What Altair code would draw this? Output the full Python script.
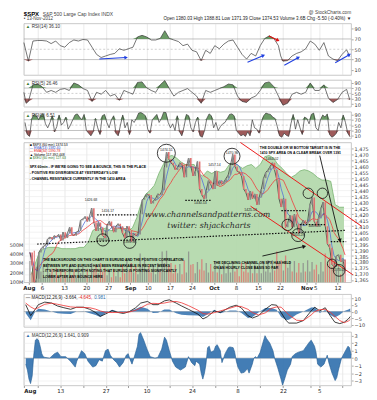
import math
import altair as alt
import pandas as pd

# ---------------- layout ----------------
W = 330
H_RSI14, H_RSI5, H_RSI2, H_MAIN, H_MACD, H_HIST = 52, 27, 27, 141, 33, 54

# ---------------- x axis (trading days since 1-Aug-2012) ----------------
tick_days = [0, 3, 8, 13, 18, 23, 27, 32, 37, 42, 47, 52, 57, 63, 65, 70]
tick_labels = ["Aug", "6", "13", "20", "27", "Sep", "10", "17", "24", "Oct", "8", "15", "22", "Nov", "5", "12"]
month_days = [0, 23, 42, 63]

# ---------------- SPX 60-min, two samples per day (AM, PM) ----------------
spx_half = [
    1388, 1377, 1360, 1366, 1388, 1391, 1393, 1394, 1399, 1401,
    1399, 1402, 1401, 1403, 1398, 1405, 1400, 1404, 1409, 1403,
    1402, 1405, 1406, 1415, 1416, 1418, 1414, 1418, 1425, 1413,
    1406, 1413, 1409, 1402, 1400, 1411, 1414, 1410, 1405, 1410,
    1412, 1410, 1404, 1400, 1410, 1406, 1397, 1404, 1402, 1403,
    1420, 1432, 1434, 1437, 1436, 1429, 1431, 1433, 1437, 1436,
    1440, 1459, 1472, 1466, 1463, 1461, 1457, 1459, 1463, 1461,
    1451, 1460, 1467, 1460, 1452, 1456, 1464, 1441, 1436, 1433,
    1440, 1448, 1445, 1441, 1456, 1444, 1448, 1445, 1447, 1450,
    1453, 1461, 1470, 1460, 1456, 1455, 1452, 1441, 1438, 1432,
    1439, 1433, 1437, 1428, 1434, 1441, 1450, 1455, 1457, 1460,
    1463, 1457, 1449, 1433, 1426, 1433, 1409, 1413, 1419, 1409,
    1420, 1412, 1404, 1411, 1415, 1412, 1414, 1428, 1434, 1414,
    1410, 1417, 1425, 1430, 1410, 1395, 1392, 1378, 1376, 1385,
    1386, 1380, 1382, 1374.5,
]
# volume (millions), same sampling
vol_half = [
    320, 200, 430, 260, 380, 210, 260, 150, 300, 190,
    240, 160, 250, 150, 240, 160, 230, 150, 280, 170,
    230, 160, 270, 190, 260, 170, 240, 160, 300, 230,
    280, 190, 300, 210, 250, 170, 220, 150, 240, 160,
    210, 150, 280, 190, 330, 220, 300, 200, 270, 180,
    400, 260, 360, 230, 290, 200, 270, 180, 300, 210,
    420, 300, 430, 270, 300, 190, 280, 190, 290, 180,
    330, 200, 420, 280, 290, 190, 310, 230, 340, 220,
    300, 200, 290, 210, 320, 200, 280, 180, 290, 190,
    300, 200, 310, 210, 240, 160, 300, 210, 310, 200,
    290, 190, 280, 190, 300, 190, 320, 210, 330, 200,
    330, 220, 420, 300, 330, 220, 380, 250, 320, 210,
    320, 200, 300, 200, 300, 210, 330, 210, 310, 230,
    280, 180, 310, 210, 400, 290, 360, 260, 330, 220,
    280, 180, 330, 240,
]
# EURUSD background, one value per day
eurusd_day = [
    1.219, 1.228, 1.237, 1.239, 1.240, 1.240, 1.240, 1.239, 1.239, 1.239,
    1.239, 1.240, 1.240, 1.244, 1.253, 1.255, 1.254, 1.255, 1.253, 1.253,
    1.255, 1.255, 1.253, 1.255, 1.263, 1.274, 1.281, 1.284, 1.288, 1.297,
    1.304, 1.310, 1.311, 1.309, 1.306, 1.304, 1.304, 1.304, 1.297, 1.295,
    1.299, 1.297, 1.299, 1.298, 1.299, 1.304, 1.306, 1.303, 1.301, 1.303,
    1.304, 1.301, 1.304, 1.310, 1.311, 1.309, 1.304, 1.301, 1.297, 1.294,
    1.296, 1.299, 1.300, 1.299, 1.297, 1.294, 1.292, 1.292, 1.291, 1.273,
    1.271, 1.271,
]

# ---------------- RSI(14) panel ----------------
rsi14_day = [0, 1, 2, 3, 4, 5, 6, 7, 8, 9, 10, 11, 12, 13, 14, 15, 16, 17, 18, 19,
             20, 21, 22, 23, 24, 25, 26, 27, 28, 29, 30, 31, 32, 33, 34, 35, 36, 37, 38, 39,
             40, 41, 42, 43, 44, 45, 46, 47, 48, 49, 50, 51, 52, 53, 54, 55, 56, 56.5, 57, 58,
             59, 60, 61, 62, 63, 64, 65, 66, 67, 68, 69, 70, 71, 71.7]
rsi14_val = [63, 27, 66, 67, 67, 66, 61, 66, 57, 54, 63, 68, 66, 69, 68, 54, 40, 34, 37, 40,
             42, 51, 48, 51, 54, 74, 77, 74, 68, 68, 71, 86, 71, 68, 65, 57, 60, 48, 45, 28,
             48, 42, 57, 51, 60, 66, 68, 54, 40, 31, 42, 37, 57, 71, 76, 71, 57, 37, 27, 28,
             37, 42, 45, 51, 66, 60, 48, 63, 37, 31, 28, 40, 49, 36]
rsi_blue_arrows = {"d1": [16.6, 49.2, 57.3, 68.5], "v1": [31, 25, 19, 24],
                   "d2": [22.5, 52.7, 60.4, 71.6], "v2": [34, 38, 34, 39.5]}
rsi_red_arrow = {"d1": [53.9], "v1": [75.5], "d2": [55.9], "v2": [67.4]}

# ---------------- RSI(5) panel ----------------
rsi5_day = [0, 0.5, 1, 2, 3, 4, 5, 6, 7, 8, 9, 10, 11, 12, 13, 14, 15, 16, 17, 18, 19,
            20, 21, 22, 23, 24, 25, 26, 27, 28, 29, 30, 31, 32, 33, 34, 35, 36, 37, 38, 39,
            40, 41, 42, 43, 44, 45, 46, 47, 48, 49, 50, 51, 52, 53, 54, 55, 56, 57, 58, 59,
            60, 61, 62, 63, 64, 65, 66, 67, 68, 69, 70, 71, 71.7]
rsi5_val = [54, 13, 20, 82, 85, 75, 54, 61, 54, 65, 68, 61, 89, 82, 68, 61, 20, 54, 47, 61, 40,
            47, 24, 61, 54, 47, 91, 93, 71, 61, 54, 82, 98, 68, 40, 54, 61, 68, 54, 40, 13,
            61, 54, 61, 68, 75, 85, 82, 40, 20, 16, 33, 40, 61, 89, 93, 75, 40, 6, 13, 47,
            54, 47, 54, 89, 61, 61, 82, 33, 16, 27, 54, 65, 26]

# ---------------- RSI(2) panel, two samples per day ----------------
rsi2_half = [
    60, 15, 8, 75, 90, 85, 70, 88, 92, 55,
    40, 60, 85, 25, 45, 88, 50, 60, 80, 35,
    50, 70, 88, 92, 80, 70, 90, 30, 20, 10,
    25, 75, 40, 15, 85, 90, 60, 40, 70, 85,
    20, 10, 50, 88, 40, 60, 15, 70, 60, 75,
    95, 97, 92, 85, 35, 20, 70, 80, 90, 60,
    75, 98, 97, 60, 40, 55, 30, 85, 25, 10,
    45, 90, 85, 40, 25, 60, 80, 10, 5, 30,
    75, 92, 85, 40, 60, 30, 45, 55, 60, 75,
    90, 92, 85, 30, 20, 10, 15, 8, 25, 10,
    70, 40, 35, 20, 60, 85, 95, 92, 90, 80,
    75, 45, 10, 5, 20, 12, 8, 55, 90, 35,
    70, 40, 15, 80, 75, 55, 90, 95, 40, 30,
    70, 88, 80, 92, 15, 5, 10, 20, 60, 40,
    88, 60, 20, 6.5,
]

# ---------------- MACD panel ----------------
macd_day = [0.4, 1.5, 2.5, 3.2, 4.6, 6.1, 7.4, 8.8, 10.3, 11.6, 13.1, 14.5, 15.8, 16.8, 17.9,
            19.4, 20.8, 21.9, 23.2, 24.6, 25.7, 27.2, 28.4, 29.5, 30.9, 32.0, 33.5, 34.7, 36.2,
            38.3, 39.4, 40.4, 41.9, 43.2, 45.3, 46.7, 47.8, 49.3, 50.3, 51.6, 53.1, 54.5, 55.6,
            56.6, 57.7, 58.3, 60.0, 61.5, 63.2, 64.0, 65.1, 66.3, 67.4, 68.4, 69.5, 70.5, 71.4, 71.8]
macd_line = [5.2, -3.0, 1.7, 5.2, 7.1, 6.4, 4.2, 2.9, 1.7, 3.3, 3.3, 1.7, -0.7, -3.6, -1.9,
             0.7, -0.7, -1.4, 0.0, 2.9, 6.4, 7.6, 5.2, 5.2, 8.0, 8.8, 6.4, 4.2, 1.7,
             -1.9, -5.5, -3.8, 0.5, -0.7, 3.3, 4.8, 2.9, -3.1, -4.8, -3.1, 1.7, 5.2, 4.8,
             -0.7, -6.7, -8.6, -8.6, -6.7, 0.5, 3.3, 0.5, 2.9, -3.1, -7.9, -9.0, -7.9, -5.5, -3.7]
macd_signal = [6.4, 3.5, 1.7, 3.0, 5.5, 6.3, 5.5, 4.5, 3.5, 3.2, 3.1, 2.9, 1.8, 0.5, -0.5,
               -0.7, -0.6, -0.7, -0.3, 1.0, 2.8, 5.5, 6.2, 6.0, 6.4, 7.2, 7.6, 6.6, 4.5,
               1.0, -1.5, -1.9, -0.8, 0.5, 2.5, 4.0, 3.8, 1.7, -0.8, -2.5, -1.0, 2.5, 3.5,
               3.3, -0.5, -2.5, -6.5, -6.7, -2.5, 0.0, 1.5, 1.7, -0.5, -3.5, -6.7, -8.3, -7.0, -6.0]

# ---------------- lower histogram panel ----------------
hist_day = [
    0.42, 0.78, 1.12, 1.47, 1.83, 2.17, 2.53, 2.88, 3.22, 3.58,
    3.94, 4.27, 4.63, 5.68, 6.74, 7.43, 8.15, 9.2, 10.25, 11.3,
    11.64, 12.69, 13.41, 14.1, 15.16, 15.85, 16.57, 17.26, 17.96, 18.53,
    19.01, 19.73, 20.42, 21.05, 21.83, 22.53, 22.95, 23.37, 23.79, 24.21,
    24.99, 25.33, 25.68, 26.38, 27.09, 27.79, 28.84, 29.47, 30.32, 30.95,
    31.37, 32.0, 32.69, 33.41, 34.46, 35.52, 36.21, 36.91, 37.62, 37.89,
    38.67, 39.01, 39.37, 39.73, 40.06, 40.42, 40.78, 41.12, 41.83, 42.17,
    42.53, 43.22, 43.58, 43.94, 44.27, 44.99, 45.33, 46.04, 46.38, 46.74,
    47.09, 47.79, 48.48, 49.2, 49.54, 50.25, 50.59, 50.95, 51.31, 52.0,
    52.36, 53.05, 53.41, 54.11, 54.8, 55.16, 55.85, 56.57, 56.91, 57.26,
    57.96, 58.67, 59.01, 59.73, 60.42, 61.47, 62.17, 62.88, 63.22, 63.94,
    64.27, 64.63, 65.33, 66.04, 66.74, 67.09, 67.79, 68.48, 68.84, 69.2,
    69.89, 70.59, 71.31, 71.64, 72.0,
]
hist_val = [
    -0.8, -1.6, -2.8, -3.4, -2.4, 0.4, 2.4, 2.6, 2.4, 1.6,
    0.6, 0.2, 0.1, 0.0, 0.6, 0.8, 0.2, 0.2, -0.4, -1.2,
    -0.4, 1.0, 0.6, -0.4, -1.2, -1.0, -0.2, -0.4, 1.0, 1.2,
    0.4, -0.2, -0.6, -1.2, -0.6, 0.4, 0.6, -0.2, -0.8, 0.0,
    1.6, 3.2, 3.4, 2.4, 1.2, 0.2, 0.0, 0.1, 1.2, 2.8,
    2.4, 1.0, -0.4, -1.2, -1.6, -1.2, 0.2, -0.6, -1.0, -0.4,
    -0.8, -2.0, -2.8, -2.0, -0.8, 1.4, 1.6, 0.8, 1.0, 1.6,
    1.8, 1.0, -0.6, 0.0, 0.6, 1.4, 1.5, 1.4, 0.8, -0.4,
    -1.2, -2.0, -1.9, -1.4, -2.0, -0.8, 0.0, 0.2, 0.0, 0.8,
    1.6, 3.0, 2.6, 2.0, 1.0, 0.0, -1.3, -2.8, -3.6, -3.0,
    -1.6, -0.8, 0.2, 0.6, 0.8, 1.0, 1.6, 2.2, 2.4, 1.6,
    0.8, -0.8, -1.2, -0.8, 0.4, -0.6, -2.0, -3.0, -2.6, -1.6,
    0.0, 0.8, 1.6, 1.4, 0.4,
]

# ---------------- main-panel annotations (day, price) ----------------
channel_lines = {"d1": [48.0, 50.3], "p1": [1480, 1426.7], "d2": [75.5, 73.5], "p2": [1409.9, 1369.4]}
dotted_lines = {"d1": [1.9, 15.5, 35.5, 57.3, 61.5, 68.5], "p1": [1395, 1419.5, 1431.5, 1423, 1411.3, 1397],
                "d2": [72, 24.5, 41.5, 62.9, 67.2, 72], "p2": [1406.5, 1419.5, 1431.5, 1423, 1411.3, 1397]}
black_arrows = {"d1": [66.0, 53.0], "p1": [1469, 1385], "d2": [70.6, 62.5], "p2": [1398, 1393]}
circles = {"d": [31.2, 46.1, 16.8, 22.9, 63.4, 66.6, 68.8, 70.4, 61.1, 58.7],
           "p": [1471, 1468.5, 1398.5, 1396.5, 1437.5, 1437.5, 1378.5, 1373, 1402.5, 1411],
           "s": [330, 260, 150, 150, 110, 110, 90, 140, 170, 130]}
value_labels = {"d": [14.1, 17.9, 31.2, 46.1, 42.1, 55.2, 16.8, 22.9, 38.9, 50.3, 61.1, 70.4, 64.8],
                "p": [1431.5, 1423, 1474, 1471.5, 1461, 1466.3, 1398.5, 1396.5, 1429, 1423.6, 1402.7, 1373.5, 1410],
                "t": ["1426.68", "1416.17", "1474.51", "1470.96", "1457.14", "1464.02", "1398.04",
                      "1396.56", "1430.53", "1425.53", "1403.28", "1373.03", "1409.13"]}
legend_lines = {"p": [1478.3, 1475.5, 1472.7, 1469.9, 1467.1],
                "t": ["\u25a0 $SPX (60 min) 1374.53", "\u2014 EMA(13) 1382.40", "\u2014 EMA(34) 1390.78",
                      "\u25b2 Volume 117,392,448", "\u25a0 $XEU (60 min) 127.63"],
                "c": ["#000000", "#2b4fc9", "#e32222", "#000000", "#3a7d34"]}
notes = {"d": [0.2, 0.2, 0.2, 52.4, 52.4, 3.2, 3.2, 3.2, 3.2, 41.9, 41.9],
         "p": [1459.2, 1454.4, 1449.7, 1475.2, 1471.3, 1381.6, 1376.9, 1372.2, 1367.4, 1379.5, 1374.8],
         "t": ["SPX 60min - IF WE'RE GOING TO SEE A BOUNCE, THIS IS THE PLACE",
               "- POSITIVE RSI DIVERGENCE AT YESTERDAY'S LOW",
               "- CHANNEL RESISTANCE CURRENTLY IN THE 1410 AREA",
               "THE DOUBLE OR W BOTTOM TARGET IS IN THE",
               "1410 SPX AREA ON A CLEAR BREAK OVER 1391",
               "THE BACKGROUND ON THIS CHART IS EURUSD AND THE POSITIVE CORRELATION",
               "BETWEEN SPX AND EURUSD HAS BEEN REMARKABLE IN RECENT WEEKS",
               "- IT'S THEREFORE WORTH NOTING THAT EURUSD IS POINTING SIGNIFICANTLY",
               "LOWER AFTER ANY BOUNCE HERE",
               "THE DECLINING CHANNEL ON SPX HAS HELD",
               "ON AN HOURLY CLOSE BASIS SO FAR"]}
watermark = {"d": [26.3, 31.4], "p": [1419, 1410], "t": ["www.channelsandpatterns.com", "twitter: shjackcharts"]}

# ---------------- helpers ----------------
NOTE_FONT = "Liberation Sans, Arial"
PRICE_DOM = [1363, 1480]
label_expr = "".join(f"datum.value == {d} ? '{t}' : " for d, t in zip(tick_days, tick_labels)) + "''"
month_test = " || ".join(f"datum.value == {d}" for d in month_days)
xscale = alt.Scale(domain=[0, 72], nice=False, zero=False)


def xenc(field, show=False):
    return alt.X(field, type="quantitative", scale=xscale, axis=alt.Axis(
        values=tick_days, labelExpr=label_expr, labels=show, ticks=show, tickSize=2, tickColor="#999",
        domain=False, grid=True, gridColor="#dcdcdc", gridWidth=0.6, title=None, labelFontSize=5.5,
        labelPadding=1, labelFlush=True, labelColor="#222",
        labelFontWeight=alt.condition(month_test, alt.value("bold"), alt.value("normal"))))


def yax(values, grid=False, orient="right"):
    return alt.Axis(orient=orient, values=values, labelFontSize=5, labelPadding=1, tickSize=2,
                    tickColor="#aaa", domain=False, grid=grid, gridColor="#ebebeb", gridWidth=0.6,
                    title=None, labelColor="#333")


def arrow_angle(d1, v1, d2, v2, px_x, px_y):
    dx = (d2 - d1) * px_x
    dy = -(v2 - v1) * px_y
    return math.degrees(math.atan2(dx, -dy)) % 360


def arrow_layers(spec, yf, yscale, yaxis, color, h, dom_span, width=1.0, head=18):
    df = pd.DataFrame(spec)
    df["ang"] = [arrow_angle(a, b, c, d, W / 72, h / dom_span)
                 for a, b, c, d in zip(df["d1"], df[yf + "1"], df["d2"], df[yf + "2"])]
    line = alt.Chart(df).mark_rule(color=color, strokeWidth=width).encode(
        x=xenc("d1"), x2="d2", y=alt.Y(yf + "1:Q", scale=yscale, axis=yaxis), y2=yf + "2")
    tip = alt.Chart(df).mark_point(shape="triangle-up", filled=True, color=color, size=head, opacity=1).encode(
        x=xenc("d2"), y=alt.Y(yf + "2:Q", scale=yscale, axis=yaxis), angle=alt.Angle("ang:Q", scale=None))
    return [line, tip]


def ptext(txt, x, y, align="left", size=5, color="#222", weight="normal"):
    return alt.Chart(pd.DataFrame({"t": [txt]})).mark_text(
        align=align, baseline="middle", fontSize=size, color=color, fontWeight=weight,
        font="Liberation Sans, Arial").encode(text="t:N", x=alt.value(x), y=alt.value(y))


def oscillator(days, vals, h, label, extra=None, header=None):
    ys = alt.Scale(domain=[0, 100], nice=False, zero=False)
    ya = yax([10, 30, 50, 70, 90])
    df = pd.DataFrame({"d": days, "v": vals})
    base = alt.Chart(df).transform_calculate(hi="max(datum.v, 70)", lo="min(datum.v, 30)")
    rules = alt.Chart(pd.DataFrame({"r": [70, 30]})).mark_rule(color="#9a9a9a", strokeWidth=0.6).encode(
        y=alt.Y("r:Q", scale=ys, axis=ya))
    mid = alt.Chart(pd.DataFrame({"r": [50]})).mark_rule(color="#b0b0b0", strokeWidth=0.6, strokeDash=[2, 2]).encode(
        y=alt.Y("r:Q", scale=ys, axis=ya))
    green = base.mark_area(color="#5b8f55", opacity=0.9).encode(
        x=xenc("d"), y=alt.Y("hi:Q", scale=ys, axis=ya), y2=alt.datum(70))
    red = base.mark_area(color="#944848", opacity=0.9).encode(
        x=xenc("d"), y=alt.Y("lo:Q", scale=ys, axis=ya), y2=alt.datum(30))
    line = base.mark_line(color="#3a3a3a", strokeWidth=0.7).encode(
        x=xenc("d"), y=alt.Y("v:Q", scale=ys, axis=ya))
    layers = [rules, mid, green, red, line]
    if extra:
        for spec, color in extra:
            layers += arrow_layers(spec, "v", ys, ya, color, h, 100, width=1.1, head=16)
    layers.append(ptext("\u25b2", 2, 4, size=4.5, color="#3a7d34"))
    layers.append(ptext(label, 8, 4, size=4.6, color="#333"))
    if header:
        layers += header
    return alt.layer(*layers).properties(width=W, height=h)


# ---------------- panel 1..3 ----------------
header = [
    ptext("$SPX", 0, -10, size=6, color="#000", weight="bold"),
    ptext("S&P 500 Large Cap Index  INDX", 19, -10, size=5, color="#444"),
    ptext("\u2022 13-Nov-2012", 0, -4.5, size=4.6, color="#444"),
    ptext("@ StockCharts.com", W, -10.5, align="right", size=4.8, color="#444"),
    ptext("Open 1380.03  High 1388.81  Low 1371.39  Close 1374.53  Volume 3.6B  Chg -5.50 (-0.40%) \u25bc",
          W, -4.5, align="right", size=4.6, color="#222"),
]
p1 = oscillator(rsi14_day, rsi14_val, H_RSI14, "RSI(14) 36.10",
                extra=[(rsi_blue_arrows, "#1f3fe0"), (rsi_red_arrow, "#e01010")], header=header)
p2 = oscillator(rsi5_day, rsi5_val, H_RSI5, "RSI(5) 26.46")
rsi2_days = [i * 0.5 + 0.25 for i in range(len(rsi2_half))]
p3 = oscillator(rsi2_days, rsi2_half, H_RSI2, "RSI(2) 6.51")

# ---------------- main price panel ----------------
half_days = [i * 0.5 + 0.25 for i in range(len(spx_half))]
opens = [spx_half[0]] + spx_half[:-1]
price_df = pd.DataFrame({"d": half_days, "p": spx_half, "o": opens,
                         "dir": ["up" if c >= o else "down" for c, o in zip(spx_half, opens)]})
vol_df = pd.DataFrame({"d": half_days, "v": vol_half, "dir": price_df["dir"]})
eur_df = pd.DataFrame({"d": [i + 0.5 for i in range(len(eurusd_day))], "e": eurusd_day})

ps = alt.Scale(domain=PRICE_DOM, nice=False, zero=False)
pa = yax(list(range(1365, 1480, 5)), grid=True)

eur_area = alt.Chart(eur_df).mark_area(color="#b4d9ad", opacity=0.95, clip=True,
                                       line={"color": "#79b372", "strokeWidth": 0.8}).encode(
    x=xenc("d", True), y=alt.Y("e:Q", scale=alt.Scale(domain=[1.213, 1.321], nice=False, zero=False), axis=None))

vol_bars = alt.Chart(vol_df).mark_bar(width=1.3, clip=True).encode(
    x=xenc("d", True),
    y=alt.Y("v:Q", scale=alt.Scale(domain=[95, 1575], nice=False, zero=False),
            axis=alt.Axis(orient="left", values=[100, 200, 300, 400, 500], labelExpr="datum.value + 'M'",
                          grid=False, ticks=False, domain=False, labelFontSize=5, labelPadding=1,
                          title=None, labelColor="#333")),
    color=alt.Color("dir:N", scale=alt.Scale(domain=["up", "down"], range=["#8a8a8a", "#e07070"]), legend=None),
    opacity=alt.value(0.8))

ema34 = alt.Chart(price_df).transform_window(m="mean(p)", frame=[-9, 0], sort=[alt.SortField("d")]).mark_line(
    color="#ee3b3b", strokeWidth=0.8, clip=True).encode(x=xenc("d", True), y=alt.Y("m:Q", scale=ps, axis=pa))
ema13 = alt.Chart(price_df).transform_window(m="mean(p)", frame=[-3, 0], sort=[alt.SortField("d")]).mark_line(
    color="#5570d8", strokeWidth=0.8, clip=True).encode(x=xenc("d", True), y=alt.Y("m:Q", scale=ps, axis=pa))
price_line = alt.Chart(price_df).mark_line(color="#2a2a2a", strokeWidth=0.7, clip=True).encode(
    x=xenc("d", True), y=alt.Y("p:Q", scale=ps, axis=pa))
candles = alt.Chart(price_df).mark_bar(width=1.6, clip=True).encode(
    x=xenc("d", True), y=alt.Y("o:Q", scale=ps, axis=pa), y2="p",
    color=alt.Color("dir:N", scale=alt.Scale(domain=["up", "down"], range=["#111111", "#d41818"]), legend=None))

chan = alt.Chart(pd.DataFrame(channel_lines)).mark_rule(color="#ec1c1c", strokeWidth=1.0).encode(
    x=xenc("d1", True), x2="d2", y=alt.Y("p1:Q", scale=ps, axis=pa), y2="p2")
dots = alt.Chart(pd.DataFrame(dotted_lines)).mark_rule(color="#111", strokeWidth=1.2, strokeDash=[1.5, 1.5]).encode(
    x=xenc("d1", True), x2="d2", y=alt.Y("p1:Q", scale=ps, axis=pa), y2="p2")
arrows = arrow_layers(black_arrows, "p", ps, pa, "#111", H_MAIN, PRICE_DOM[1] - PRICE_DOM[0], width=0.9, head=18)
circ = alt.Chart(pd.DataFrame(circles)).mark_point(shape="circle", filled=False, color="#111", strokeWidth=0.8,
                                                   opacity=1).encode(
    x=xenc("d", True), y=alt.Y("p:Q", scale=ps, axis=pa), size=alt.Size("s:Q", scale=None))
vlabels = alt.Chart(pd.DataFrame(value_labels)).mark_text(fontSize=3.5, font=NOTE_FONT, color="#222").encode(
    x=xenc("d", True), y=alt.Y("p:Q", scale=ps, axis=pa), text="t:N")
legend = alt.Chart(pd.DataFrame(legend_lines).assign(d=0.2)).mark_text(
    fontSize=3.4, font=NOTE_FONT, align="left", baseline="middle").encode(
    x=xenc("d", True), y=alt.Y("p:Q", scale=ps, axis=pa), text="t:N",
    color=alt.Color("c:N", scale=None))
note_text = alt.Chart(pd.DataFrame(notes)).mark_text(
    fontSize=3.5, font=NOTE_FONT, fontWeight="bold", align="left", baseline="middle", color="#000").encode(
    x=xenc("d", True), y=alt.Y("p:Q", scale=ps, axis=pa), text="t:N")
wm = alt.Chart(pd.DataFrame(watermark)).mark_text(
    fontSize=8, font="DejaVu Serif", fontStyle="italic", align="left", baseline="middle", color="#2a2a2a").encode(
    x=xenc("d", True), y=alt.Y("p:Q", scale=ps, axis=pa), text="t:N")

price_group = alt.layer(ema34, ema13, price_line, candles, chan, dots, *arrows, circ, vlabels,
                        legend, note_text, wm)
main = alt.layer(eur_area, vol_bars, price_group).resolve_scale(y="independent").properties(
    width=W, height=H_MAIN)

# ---------------- MACD panel ----------------
ms = alt.Scale(domain=[-11.5, 13], nice=False, zero=False)
ma = yax([-10, -5, 0, 5, 10], grid=True)
macd_df = pd.DataFrame({"d": macd_day, "m": macd_line, "s": macd_signal})
zero_m = alt.Chart(pd.DataFrame({"r": [0]})).mark_rule(color="#999", strokeWidth=0.6).encode(
    y=alt.Y("r:Q", scale=ms, axis=ma))
macd_hist = alt.Chart(macd_df).transform_calculate(h="datum.m - datum.s").mark_area(
    color="#2f6fad", opacity=0.85).encode(x=xenc("d"), y=alt.Y("h:Q", scale=ms, axis=ma), y2=alt.datum(0))
macd_l = alt.Chart(macd_df).mark_line(color="#111", strokeWidth=0.8).encode(
    x=xenc("d"), y=alt.Y("m:Q", scale=ms, axis=ma))
sig_l = alt.Chart(macd_df).mark_line(color="#ee3333", strokeWidth=0.8).encode(
    x=xenc("d"), y=alt.Y("s:Q", scale=ms, axis=ma))
macd = alt.layer(zero_m, macd_hist, macd_l, sig_l,
                 ptext("\u2014 MACD(12,26,9) -3.664,", 2, 4, size=4.5, color="#222"),
                 ptext("-4.645,", 55, 4, size=4.5, color="#e32222"),
                 ptext("0.981", 71, 4, size=4.5, color="#2f6fad")).properties(width=W, height=H_MACD)

# ---------------- histogram panel ----------------
hs = alt.Scale(domain=[-3.65, 3.5], nice=False, zero=False)
ha = yax([-3, -2, -1, 0, 1, 2, 3], grid=True)
hist_df = pd.DataFrame({"d": hist_day, "h": hist_val})
zero_h = alt.Chart(pd.DataFrame({"r": [0]})).mark_rule(color="#999", strokeWidth=0.6).encode(
    y=alt.Y("r:Q", scale=hs, axis=ha))
hist_area = alt.Chart(hist_df).mark_area(color="#2f6fad", opacity=0.9,
                                         line={"color": "#1f5a92", "strokeWidth": 0.6}).encode(
    x=xenc("d", True), y=alt.Y("h:Q", scale=hs, axis=ha), y2=alt.datum(0))
hist = alt.layer(zero_h, hist_area,
                 ptext("\u25b2", 2, 4, size=4.5, color="#2f6fad"),
                 ptext("MACD(12,26,9) 1.641, 0.909", 8, 4, size=4.5, color="#333")).properties(
    width=W, height=H_HIST)

chart = alt.vconcat(p1, p2, p3, main, macd, hist, spacing=2).properties(
    padding={"left": 0, "top": 0, "right": 0, "bottom": 0}
).configure_view(stroke="#b0b0b0", strokeWidth=0.7).configure_axis(labelFont="DejaVu Sans")

chart.save("out.html", embed_options={"renderer": "svg", "actions": False})
